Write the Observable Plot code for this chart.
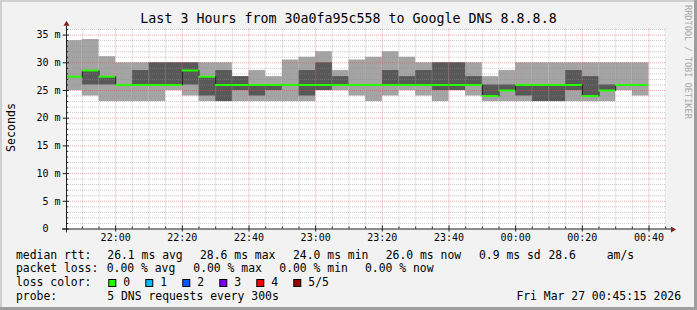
<!DOCTYPE html>
<html><head><meta charset="utf-8">
<script src="https://cdn.jsdelivr.net/npm/d3@7"></script>
<script src="https://cdn.jsdelivr.net/npm/@observablehq/plot@0.6"></script>
<style>
html,body{margin:0;padding:0;background:#f2f2f2;}
#chart{width:697px;height:310px;position:relative;}
svg{display:block;}
</style></head><body><div id="chart"></div>
<script>
// ---- data (ms) ----
const stepStarts = [
 "2026-03-26T21:45","2026-03-26T21:50","2026-03-26T21:55","2026-03-26T22:00","2026-03-26T22:05",
 "2026-03-26T22:10","2026-03-26T22:15","2026-03-26T22:20","2026-03-26T22:25","2026-03-26T22:30",
 "2026-03-26T22:35","2026-03-26T22:40","2026-03-26T22:45","2026-03-26T22:50","2026-03-26T22:55",
 "2026-03-26T23:00","2026-03-26T23:05","2026-03-26T23:10","2026-03-26T23:15","2026-03-26T23:20",
 "2026-03-26T23:25","2026-03-26T23:30","2026-03-26T23:35","2026-03-26T23:40","2026-03-26T23:45",
 "2026-03-26T23:50","2026-03-26T23:55","2026-03-27T00:00","2026-03-27T00:05","2026-03-27T00:10",
 "2026-03-27T00:15","2026-03-27T00:20","2026-03-27T00:25","2026-03-27T00:30","2026-03-27T00:35"];
const pingMax =    [34.0,34.2,31.1,30.0,30.0,30.0,30.0,30.0,30.0,30.0,27.5,28.6,27.5,30.5,31.0,32.0,28.6,30.5,31.0,32.0,31.0,30.0,30.0,30.0,30.0,27.5,28.6,30.0,30.0,30.0,30.0,30.0,30.0,30.0,30.0];
const pingHigh =   [27.5,28.6,27.5,26.0,28.6,30.0,30.0,30.0,27.5,28.6,27.5,26.0,26.0,26.0,28.6,30.0,27.5,26.0,26.0,28.6,27.5,28.6,30.0,30.0,27.5,26.0,26.0,26.0,26.0,26.0,28.6,27.5,26.0,26.0,26.0];
const pingMedian = [27.5,28.6,27.5,26.0,26.0,26.0,26.0,28.6,27.5,26.0,26.0,26.0,26.0,26.0,26.0,26.0,26.0,26.0,26.0,26.0,26.0,26.0,26.0,26.0,26.0,24.0,25.0,26.0,26.0,26.0,26.0,24.0,25.0,26.0,26.0];
const pingLow =    [27.5,26.0,26.0,26.0,26.0,26.0,26.0,26.0,24.0,23.0,25.0,24.0,25.0,26.0,24.0,25.0,26.0,26.0,26.0,26.0,26.0,26.0,25.0,25.0,26.0,24.0,25.0,24.0,23.0,23.0,25.0,24.0,25.0,26.0,26.0];
const pingMin =    [25.0,24.0,23.0,23.0,23.0,23.0,25.0,24.0,23.0,23.0,23.0,23.0,23.0,23.0,23.0,25.0,25.0,24.0,23.0,24.0,25.0,24.0,23.0,25.0,24.0,23.0,23.0,23.0,23.0,23.0,23.0,23.0,23.0,25.0,24.0];
const yTicks = [0,5,10,15,20,25,30,35];
const xTickTimes = ["2026-03-26T22:00","2026-03-26T22:20","2026-03-26T22:40","2026-03-26T23:00","2026-03-26T23:20","2026-03-26T23:40","2026-03-27T00:00","2026-03-27T00:20","2026-03-27T00:40"];
const titleText = "Last 3 Hours from 30a0fa95c558 to Google DNS 8.8.8.8";
const lossLabels = ["0","1","2","3","4","5/5"];
const lossColors = ["#26ff00","#00b8ff","#0059ff","#7e00ff","#ff0000","#a10000"];

// ---- build ----
const STEP = 300000;
const toDate = s => new Date(s + ":00Z");
const data = stepStarts.map((s, i) => {
  const st = toDate(s);
  return {start: st, end: new Date(+st + STEP), min: pingMin[i], low: pingLow[i], med: pingMedian[i], high: pingHigh[i], max: pingMax[i]};
});
const t0 = new Date("2026-03-26T21:45:15Z"), t1 = new Date("2026-03-27T00:45:15Z");
const xTicks = xTickTimes.map(toDate);
const minorX = d3.utcMinute.every(5).range(t0, t1).filter(d => d.getUTCMinutes() % 20 !== 0);
const majorX = xTicks;
const minorY = d3.range(1, 37).filter(d => d % 5 !== 0);
const majorY = [5,10,15,20,25,30,35];
const FONT = "'DejaVu Sans Mono', monospace";
const gridMinor = {stroke: "#8f8f8f", strokeOpacity: 0.48, strokeDasharray: "1,1"};
const gridMajor = {stroke: "#de4f4f", strokeOpacity: 0.5, strokeDasharray: "1,1"};
const AX = "#1f1f1f";
const min = 60000;

const plot = Plot.plot({
  width: 697, height: 310,
  marginLeft: 66, marginRight: 31, marginTop: 28.5, marginBottom: 81.5,
  style: {background: "transparent", fontFamily: FONT, fontSize: "10px", color: "#000", overflow: "visible"},
  x: {type: "utc", domain: [t0, t1], ticks: xTicks, tickFormat: d3.utcFormat("%H:%M"), tickSize: 0, tickPadding: 5, label: null},
  y: {domain: [0, 36.1], ticks: yTicks, tickFormat: d => d === 0 ? "0\u00a0\u00a0" : d + " m", tickSize: 0, tickPadding: 6, label: null},
  marks: [
    Plot.frame({fill: "white", stroke: null}),
    Plot.rect(data, {x1: "start", x2: "end", y1: "min", y2: "max", fill: "#a4a4a4", clip: true}),
    Plot.rect(data, {x1: "start", x2: "end", y1: "low", y2: "high", fill: "#585858", clip: true}),
    Plot.ruleY(minorY, gridMinor),
    Plot.ruleX(minorX, gridMinor),
    Plot.ruleY(majorY, gridMajor),
    Plot.ruleX(majorX, gridMajor),
    Plot.line(data, {x: "start", y: "med", curve: "step-after", stroke: "#202020", strokeWidth: 1, clip: true}),
    Plot.ruleY(data, {x1: "start", x2: "end", y: "med", stroke: "#26ff00", strokeWidth: 2, clip: true}),
    // axis lines and ticks
    Plot.ruleY([0], {x1: new Date(+t0 - 1.2*min), x2: new Date(+t1 + 1.5*min), stroke: AX}),
    Plot.ruleX([t0], {y1: -0.7, y2: 36.6, stroke: AX}),
    Plot.ruleY(yTicks, {x1: new Date(+t0 - 1.0*min), x2: new Date(+t0 + 0.9*min), stroke: AX}),
    Plot.ruleY(minorY, {x1: t0, x2: new Date(+t0 + 0.6*min), stroke: AX}),
    Plot.ruleX(majorX, {y1: -0.55, y2: 0.55, stroke: AX}),
    Plot.ruleX(minorX, {y1: 0, y2: 0.35, stroke: AX})
  ]
});
document.getElementById("chart").appendChild(plot);

// decorations
const svg = d3.select(plot);
const sx = plot.scale("x"), sy = plot.scale("y");
const X = sx.apply ? v => sx.apply(v) : d3.scaleUtc(sx.domain, sx.range);
const Y = sy.apply ? v => sy.apply(v) : d3.scaleLinear(sy.domain, sy.range);
const x0 = Math.round(X(t0)) + 0.5, y0 = Math.round(Y(0)) + 0.5;
// arrows
svg.append("path").attr("d", `M${x0},${Y(36.6)-5}L${x0-3},${Y(36.6)}L${x0+3},${Y(36.6)}Z`).attr("fill", "#801f1f");
const xa = X(new Date(+t1 + 1.5*min));
svg.append("path").attr("d", `M${xa+5},${y0}L${xa},${y0-3}L${xa},${y0+3}Z`).attr("fill", "#801f1f");
// border shading
svg.append("rect").attr("x",0).attr("y",0).attr("width",697).attr("height",2).attr("fill","#cfcfcf");
svg.append("rect").attr("x",0).attr("y",0).attr("width",2).attr("height",310).attr("fill","#cfcfcf");
svg.append("rect").attr("x",0).attr("y",307).attr("width",697).attr("height",3).attr("fill","#9e9e9e");
svg.append("rect").attr("x",694).attr("y",0).attr("width",3).attr("height",310).attr("fill","#9e9e9e");

const txt = (x, y, s, opts = {}) => svg.append("text").attr("x", x).attr("y", y)
  .attr("font-family", FONT).attr("font-size", opts.size || 11.4).attr("fill", opts.fill || "#000")
  .attr("text-anchor", opts.anchor || "start").attr("transform", opts.transform || null)
  .style("white-space", "pre").text(s);

txt(348.5, 22.5, titleText, {size: 13.3, anchor: "middle"});
txt(0, 0, "Seconds", {size: 11.6, anchor: "middle", transform: "translate(15,127.5) rotate(-90)"});
txt(0, 0, "RRDTOOL / TOBI OETIKER", {size: 8.6, fill: "#a8a8a8", transform: "translate(685,5) rotate(90)"});

const L = [258.5, 272.4, 286.3, 300.2];
txt(16, L[0], "median rtt:");
txt(107.3, L[0], "26.1 ms avg");
txt(200, L[0], "28.6 ms max");
txt(293, L[0], "24.0 ms min");
txt(385.7, L[0], "26.0 ms now");
txt(479, L[0], "0.9 ms sd");
txt(548.5, L[0], "28.6");
txt(606.7, L[0], "am/s");
txt(16, L[1], "packet loss:");
txt(106.7, L[1], "0.00 % avg");
txt(193.3, L[1], "0.00 % max");
txt(279.3, L[1], "0.00 % min");
txt(365, L[1], "0.00 % now");
txt(16, L[2], "loss color:");
const boxX = [108.3, 145.3, 182.3, 219.3, 256.3, 293.3];
lossLabels.forEach((lab, i) => {
  svg.append("rect").attr("x", boxX[i] + 0.5).attr("y", 279.5).attr("width", 7).attr("height", 7)
    .attr("fill", lossColors[i]).attr("stroke", "#000").attr("stroke-width", 1);
  txt(boxX[i] + 15, L[2], lab);
});
txt(16, L[3], "probe:");
txt(107.3, L[3], "5 DNS requests every 300s");
txt(681, L[3], "Fri Mar 27 00:45:15 2026", {anchor: "end"});
</script></body></html>
